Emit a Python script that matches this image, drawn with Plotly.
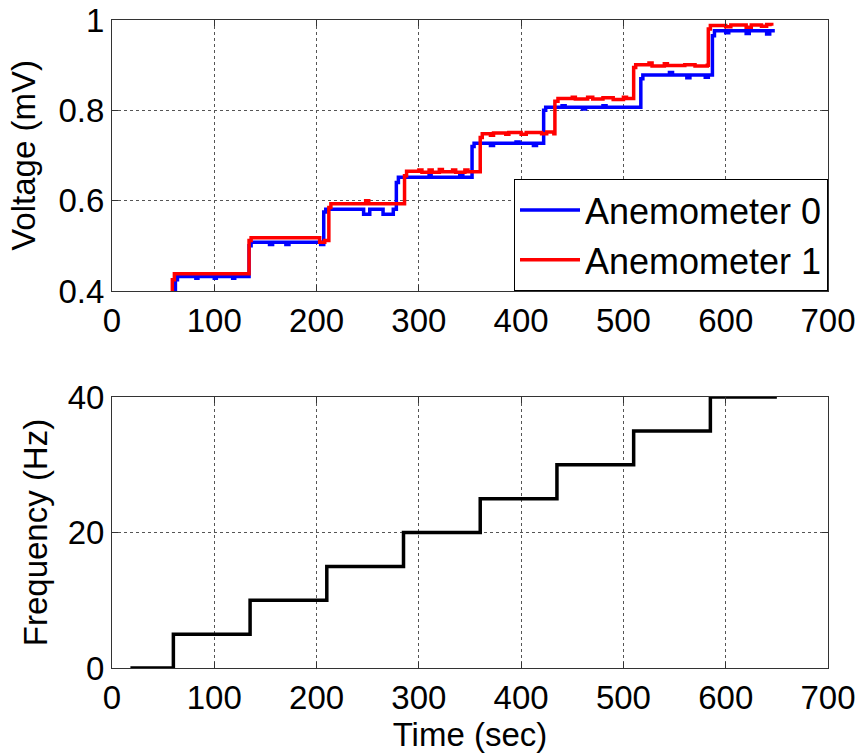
import plotly.graph_objects as go
from plotly.subplots import make_subplots

# Anemometer 0 (blue) voltage step record
t_a0 = [61, 62, 64, 82, 84, 100, 102, 118, 120, 134, 136, 154, 157, 170, 173, 204, 207, 209,
        246, 252, 265, 275, 278, 280, 310, 312, 340, 343, 352, 354, 370, 373, 395, 398, 412, 415,
        422, 424, 440, 443, 460, 463, 480, 483, 517, 519, 545, 548, 562, 565, 580, 583, 587, 589,
        600, 603, 620, 623, 640, 643, 648]
v_a0 = [0.400, 0.425, 0.432, 0.428, 0.432, 0.428, 0.432, 0.428, 0.432, 0.500, 0.508, 0.503, 0.508,
        0.503, 0.508, 0.503, 0.575, 0.581, 0.570, 0.581, 0.570, 0.581, 0.640, 0.652, 0.655, 0.652,
        0.655, 0.652, 0.720, 0.727, 0.722, 0.727, 0.730, 0.727, 0.722, 0.727, 0.800, 0.807, 0.810,
        0.807, 0.803, 0.807, 0.810, 0.807, 0.870, 0.878, 0.884, 0.878, 0.872, 0.878, 0.873, 0.878,
        0.965, 0.976, 0.972, 0.976, 0.970, 0.976, 0.969, 0.976, 0.976]

# Anemometer 1 (red) voltage step record
t_a1 = [58, 59, 61, 133, 134, 136, 202, 203, 208, 212, 214, 246, 248, 251, 285, 286, 288, 300,
        303, 310, 313, 320, 323, 333, 336, 345, 348, 359, 360, 362, 370, 373, 385, 388, 400, 405,
        420, 425, 432, 433, 436, 450, 453, 465, 470, 480, 490, 500, 503, 509, 510, 512, 525, 528,
        540, 543, 560, 570, 582, 583, 585, 600, 605, 620, 625, 635, 640, 645]
v_a1 = [0.400, 0.425, 0.438, 0.438, 0.512, 0.518, 0.518, 0.508, 0.512, 0.585, 0.593, 0.593, 0.600,
        0.593, 0.593, 0.655, 0.665, 0.668, 0.663, 0.668, 0.663, 0.669, 0.664, 0.668, 0.663, 0.668,
        0.664, 0.664, 0.740, 0.748, 0.745, 0.750, 0.747, 0.751, 0.747, 0.751, 0.748, 0.752, 0.748,
        0.820, 0.826, 0.829, 0.825, 0.829, 0.825, 0.828, 0.824, 0.829, 0.826, 0.826, 0.895, 0.901,
        0.905, 0.898, 0.903, 0.899, 0.901, 0.898, 0.900, 0.980, 0.988, 0.985, 0.989, 0.984, 0.989,
        0.986, 0.990, 0.987]

# Commanded frequency steps
t_freq = [18, 60, 135, 210, 285, 360, 435, 510, 585, 650]
f_freq = [0, 5, 10, 15, 20, 25, 30, 35, 40, 40]

x_ticks = [0, 100, 200, 300, 400, 500, 600, 700]
v_ticks = [0.4, 0.6, 0.8, 1.0]
v_ticktext = ["0.4", "0.6", "0.8", "1"]
f_ticks = [0, 20, 40]

FONT = "Liberation Sans, Arial, sans-serif"
FS = 33

fig = make_subplots(rows=2, cols=1, vertical_spacing=0.1636)

fig.add_trace(go.Scatter(x=t_a0, y=v_a0, mode="lines", line_shape="hv",
                         line=dict(color="#0000FF", width=3.5), name="Anemometer 0"), row=1, col=1)
fig.add_trace(go.Scatter(x=t_a1, y=v_a1, mode="lines", line_shape="hv",
                         line=dict(color="#FF0000", width=3.5), name="Anemometer 1"), row=1, col=1)
fig.add_trace(go.Scatter(x=t_freq, y=f_freq, mode="lines", line_shape="hv",
                         line=dict(color="black", width=3.5), showlegend=False), row=2, col=1)

axis_common = dict(showline=True, linecolor="#333333", linewidth=1, mirror="ticks",
                   ticks="inside", ticklen=6, tickcolor="#333333",
                   showgrid=True, gridcolor="#555555", griddash="dot", gridwidth=1,
                   zeroline=False, tickfont=dict(family=FONT, size=FS, color="black"))

fig.update_xaxes(range=[0, 700], tickvals=x_ticks, **axis_common)
fig.update_xaxes(title=dict(text="Time (sec)", font=dict(family=FONT, size=FS, color="black"),
                            standoff=1), row=2, col=1)
fig.update_yaxes(range=[0.4, 1.0], tickvals=v_ticks, ticktext=v_ticktext,
                 title=dict(text="Voltage (mV)", font=dict(family=FONT, size=FS, color="black"),
                            standoff=12), row=1, col=1, **axis_common)
fig.update_yaxes(range=[0, 40], tickvals=f_ticks,
                 title=dict(text="Frequency (Hz)", font=dict(family=FONT, size=FS, color="black"),
                            standoff=10), row=2, col=1, **axis_common)

fig.update_layout(
    width=861, height=754,
    margin=dict(l=112, r=33, t=20, b=86, autoexpand=False),
    paper_bgcolor="white", plot_bgcolor="white",
    font=dict(family=FONT, size=FS, color="black"),
    legend=dict(x=1, xanchor="right", y=0.5818, yanchor="bottom",
                bgcolor="white", bordercolor="black", borderwidth=1,
                font=dict(family=FONT, size=36, color="black"),
                tracegroupgap=0, itemwidth=60),
)
fig.update_xaxes(automargin=False)
fig.update_yaxes(automargin=False)

fig.write_html("out.html")
